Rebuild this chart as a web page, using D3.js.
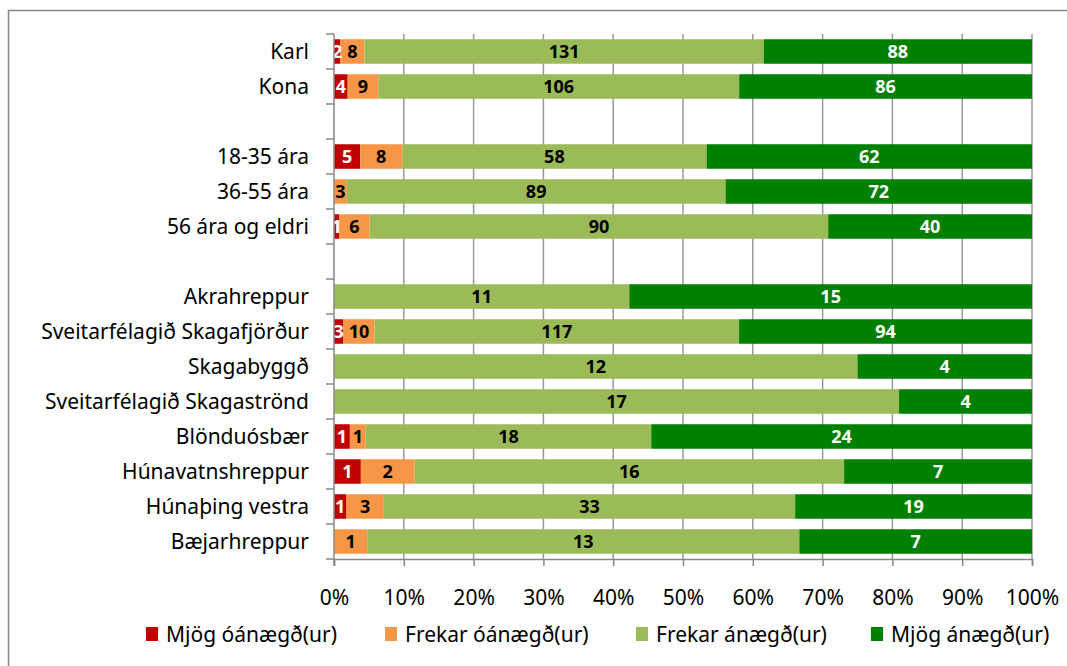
<!DOCTYPE html>
<html>
<head>
<meta charset="utf-8">
<script src="https://cdn.jsdelivr.net/npm/d3@7"></script>
<style>
  body { margin: 0; background: #fff; }
  text { font-family: "Noto Sans", "Open Sans", sans-serif; }
</style>
</head>
<body>
<div id="chart"></div>
<script>
const categories = ["Karl", "Kona", "", "18-35 ára", "36-55 ára", "56 ára og eldri", " ",
    "Akrahreppur", "Sveitarfélagið Skagafjörður", "Skagabyggð", "Sveitarfélagið Skagaströnd",
    "Blönduósbær", "Húnavatnshreppur", "Húnaþing vestra", "Bæjarhreppur"];
const seriesNames = ["Mjög óánægð(ur)", "Frekar óánægð(ur)", "Frekar ánægð(ur)", "Mjög ánægð(ur)"];
const mjogOanaegd   = [2, 4, null, 5, 0, 1, null, 0, 3, 0, 0, 1, 1, 1, 0];
const frekarOanaegd = [8, 9, null, 8, 3, 6, null, 0, 10, 0, 0, 1, 2, 3, 1];
const frekarAnaegd  = [131, 106, null, 58, 89, 90, null, 11, 117, 12, 17, 18, 16, 33, 13];
const mjogAnaegd    = [88, 86, null, 62, 72, 40, null, 15, 94, 4, 4, 24, 7, 19, 7];
const tickLabels = ["0%", "10%", "20%", "30%", "40%", "50%", "60%", "70%", "80%", "90%", "100%"];

const colors = ["#C00000", "#F79646", "#9BBB59", "#008000"];
const labelColors = ["#fff", "#000", "#000", "#fff"];

const svgWidth = 1067;
const svgHeight = 666;
const plot = { left: 334, right: 1032, top: 34, bottom: 559 };

const svg = d3.select("#chart").append("svg")
    .attr("width", svgWidth)
    .attr("height", svgHeight);

// outer chart border
svg.append("rect")
    .attr("x", 8.5).attr("y", 10.5)
    .attr("width", 1080).attr("height", 700)
    .attr("fill", "none")
    .attr("stroke", "#888")
    .attr("stroke-width", 1.5);

const rows = categories.map((c, i) => ({
    name: c,
    values: [mjogOanaegd[i], frekarOanaegd[i], frekarAnaegd[i], mjogAnaegd[i]]
}));

const xScale = d3.scaleLinear().domain([0, 1]).range([plot.left, plot.right]);
const yScale = d3.scaleBand()
    .domain(categories)
    .range([plot.top, plot.bottom])
    .paddingInner(0.3)
    .paddingOuter(0.15);

// gridlines
svg.append("g")
    .selectAll("line")
    .data(d3.range(1, 11).map(d => d / 10))
    .enter().append("line")
    .attr("x1", d => xScale(d)).attr("x2", d => xScale(d))
    .attr("y1", plot.top).attr("y2", plot.bottom)
    .attr("stroke", "#999")
    .attr("stroke-width", 1.5);

// stacked bars
const segs = [];
rows.forEach(r => {
    if (r.values[0] === null) return;
    const total = d3.sum(r.values);
    let acc = 0;
    r.values.forEach((v, k) => {
        segs.push({ cat: r.name, k: k, v: v, x0: acc / total, x1: (acc + v) / total });
        acc += v;
    });
});

svg.append("g")
    .selectAll("rect")
    .data(segs.filter(d => d.v > 0))
    .enter().append("rect")
    .attr("x", d => xScale(d.x0))
    .attr("y", d => yScale(d.cat))
    .attr("width", d => xScale(d.x1) - xScale(d.x0))
    .attr("height", yScale.bandwidth())
    .attr("fill", d => colors[d.k]);

svg.append("g")
    .selectAll("text")
    .data(segs.filter(d => d.v > 0))
    .enter().append("text")
    .attr("x", d => (xScale(d.x0) + xScale(d.x1)) / 2)
    .attr("y", d => yScale(d.cat) + yScale.bandwidth() / 2)
    .attr("dy", "0.36em")
    .attr("text-anchor", "middle")
    .attr("font-size", "18px")
    .attr("font-weight", "bold")
    .attr("fill", d => labelColors[d.k])
    .text(d => d.v);

// y axis
const step = (plot.bottom - plot.top) / categories.length;
const yAxis = svg.append("g");
yAxis.append("line")
    .attr("x1", plot.left).attr("x2", plot.left)
    .attr("y1", plot.top).attr("y2", plot.bottom + 7)
    .attr("stroke", "#888").attr("stroke-width", 1.5);
yAxis.selectAll(".tick")
    .data(d3.range(categories.length + 1))
    .enter().append("line")
    .attr("x1", plot.left - 8).attr("x2", plot.left)
    .attr("y1", d => plot.top + d * step).attr("y2", d => plot.top + d * step)
    .attr("stroke", "#888").attr("stroke-width", 1.5);
yAxis.selectAll("text")
    .data(categories.filter(c => c.trim() !== ""))
    .enter().append("text")
    .attr("x", 309)
    .attr("y", d => yScale(d) + yScale.bandwidth() / 2)
    .attr("dy", "0.36em")
    .attr("text-anchor", "end")
    .attr("font-size", "21px")
    .attr("fill", "#000")
    .text(d => d);

// x axis
const bottomAxis = d3.axisBottom(xScale)
    .tickValues(d3.range(0, 11).map(d => d / 10))
    .tickFormat((d, i) => tickLabels[i])
    .tickSize(7)
    .tickPadding(24);
const xAxis = svg.append("g")
    .attr("transform", `translate(0, ${plot.bottom})`)
    .call(bottomAxis);
xAxis.select(".domain").attr("stroke", "#888").attr("stroke-width", 1.5);
xAxis.selectAll(".tick line").attr("stroke", "#888").attr("stroke-width", 1.5);
xAxis.selectAll(".tick text")
    .attr("font-size", "21px")
    .attr("font-family", "Noto Sans")
    .attr("fill", "#000");

// legend
const legendX = [146, 385, 636, 871];
const legend = svg.append("g")
    .selectAll("g")
    .data(seriesNames)
    .enter().append("g")
    .attr("transform", (d, i) => `translate(${legendX[i]}, 636)`);
legend.append("rect")
    .attr("x", 0).attr("y", -9)
    .attr("width", 12).attr("height", 14)
    .attr("fill", (d, i) => colors[i]);
legend.append("text")
    .attr("x", 20).attr("y", 0)
    .attr("dy", "0.3em")
    .attr("font-size", "21px")
    .attr("fill", "#000")
    .text(d => d);
</script>
</body>
</html>
